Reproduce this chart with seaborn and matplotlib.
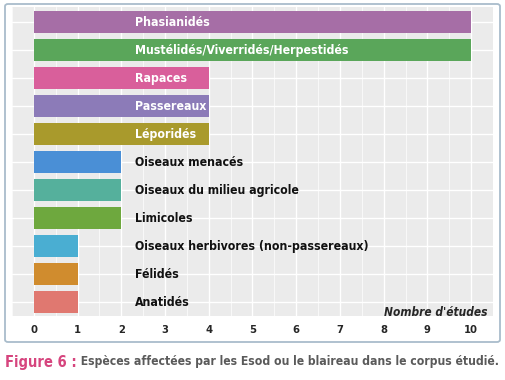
import numpy as np
import pandas as pd
import seaborn as sns
import matplotlib.pyplot as plt
from matplotlib.patches import FancyBboxPatch

# data
categories = ["Phasianidés", "Mustélidés/Viverridés/Herpestidés", "Rapaces", "Passereaux",
              "Léporidés", "Oiseaux menacés", "Oiseaux du milieu agricole", "Limicoles",
              "Oiseaux herbivores (non-passereaux)", "Félidés", "Anatidés"]
n_etudes = [10, 10, 4, 4, 4, 2, 2, 2, 1, 1, 1]
colours = ["#a66ea6", "#5aa65a", "#d95f9b", "#8c7bb8", "#a99a2c", "#4a8fd6",
           "#55b09c", "#6ea83e", "#4aaed2", "#d08c2e", "#e07870"]
x_ticks = list(range(0, 11))

df = pd.DataFrame({"espece": categories, "n": n_etudes})

sns.set_style("whitegrid")
plt.rcParams['font.family'] = ['DejaVu Sans']
plt.rcParams['font.stretch'] = 'condensed'
cfont = dict(family='DejaVu Sans', stretch='condensed', weight='bold')

fig = plt.figure(figsize=(5.06, 3.80), dpi=100)
ax = fig.add_axes([12 / 506, 1 - 316 / 380, 481 / 506, 309 / 380])
ax.set_facecolor("#ebebeb")

sns.barplot(data=df, x="n", y="espece", hue="espece", palette=colours, saturation=1,
            legend=False, orient="h", width=0.8, linewidth=0, ax=ax, zorder=3)

# grid like ggplot
ax.set_xlim(-0.477, 10.45)
ax.set_ylim(10.5, -0.54)
ax.set_xticks(x_ticks)
ax.set_xticks(np.arange(-0.5, 10.6, 1.0), minor=True)
ax.grid(which="major", color="white", lw=1.0, zorder=0)
ax.grid(which="minor", axis="x", color="white", lw=0.5, zorder=0)
ax.set_axisbelow(True)
for s in ax.spines.values():
    s.set_visible(False)
ax.set_xlabel("")
ax.set_ylabel("")
ax.set_yticklabels([""] * len(categories))
ax.tick_params(axis="both", which="major", length=2.5, color="#999999", width=0.6)
ax.tick_params(axis="x", which="minor", length=0)
ax.tick_params(axis="x", pad=4)
for lab in ax.get_xticklabels():
    lab.set_fontproperties(dict(cfont, size=8))

# labels in/next to bars
for i, (cat, v) in enumerate(zip(categories, n_etudes)):
    col = "white" if v >= 4 else "#111111"
    ax.text(2.32, i, cat, ha="left", va="center", color=col, fontsize=8.8,
            fontdict=cfont, zorder=5)

ax.text(10.38, 10.36, "Nombre d'études", ha="right", va="center", fontsize=8.6,
        fontstyle="italic", fontdict=cfont, zorder=5)

# frame around the chart
frame = FancyBboxPatch((5 / 506, 1 - 342 / 380), 495 / 506, 338 / 380,
                       boxstyle="round,pad=0,rounding_size=0.006",
                       transform=fig.transFigure, fill=False,
                       edgecolor="#a9bccb", lw=1.3)
fig.patches.append(frame)

# caption
t1 = fig.text(5 / 506, 1 - 362 / 380, "Figure 6 :", color="#d6457e", fontsize=10.5,
              va="center", ha="left", fontdict=cfont)
ax.annotate(" Espèces affectées par les Esod ou le blaireau dans le corpus étudié.",
            xy=(1, 0.5), xycoords=t1, va="center", ha="left", color="#5a5a5a",
            fontsize=8.75, annotation_clip=False, **cfont)

fig.savefig("out.png", dpi=100)
